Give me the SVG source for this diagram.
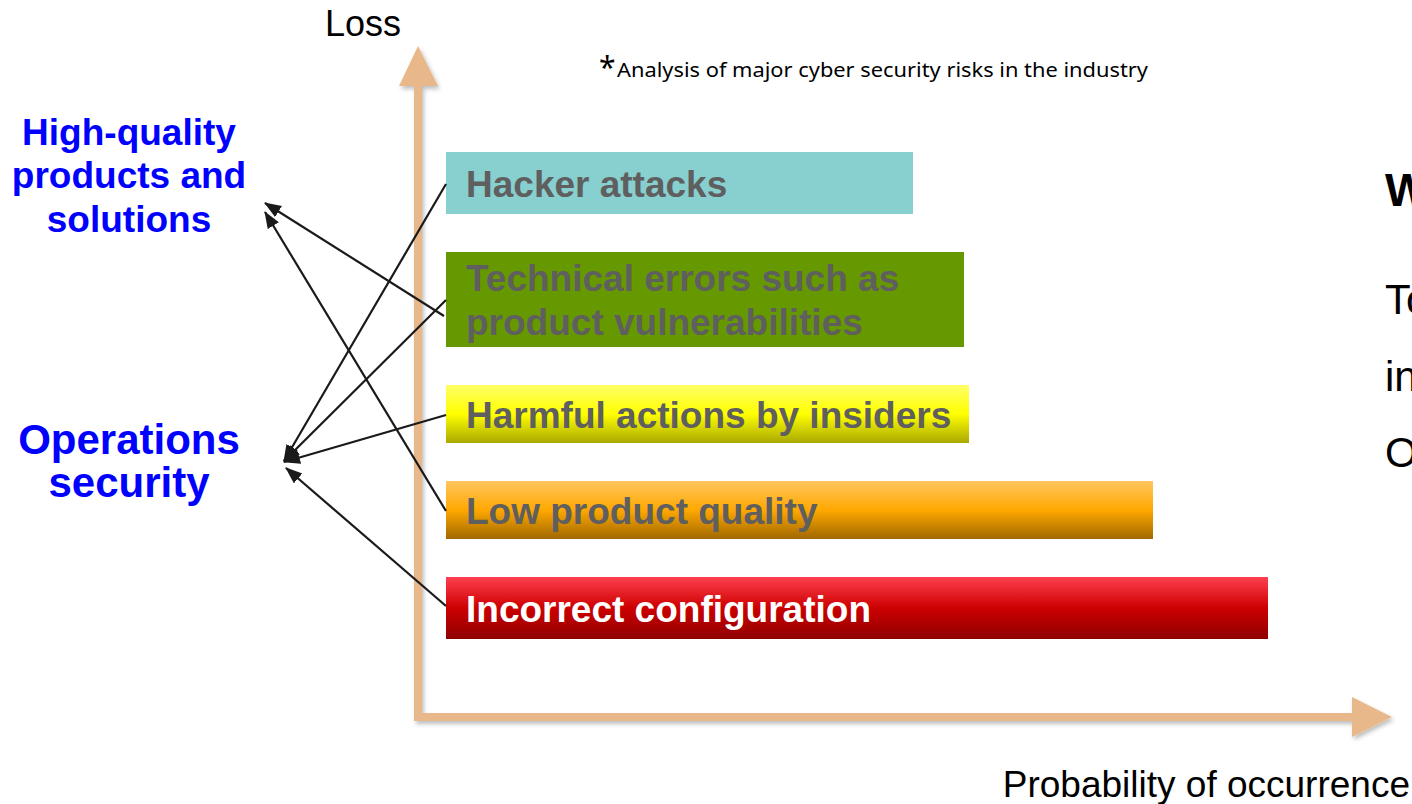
<svg xmlns="http://www.w3.org/2000/svg" width="1412" height="804" viewBox="0 0 1412 804">
<defs>
<style>
.ax{fill:#E8B88A}
.bt{font-family:"Liberation Sans",Arial,sans-serif;font-weight:bold;font-size:37px;fill:#5F5F5F}
.blue{font-family:"Liberation Sans",Arial,sans-serif;font-weight:bold;fill:#0000FF;text-anchor:middle}
.reg{font-family:"Liberation Sans",Arial,sans-serif;fill:#000}
.con{stroke:#1A1A1A;stroke-width:2.2;fill:none;marker-end:url(#ah)}
</style>
<marker id="ah" markerUnits="userSpaceOnUse" markerWidth="18" markerHeight="14" refX="16" refY="6.5" orient="auto">
<path d="M0,0 L17,6.5 L0,13 z" fill="#1A1A1A"/>
</marker>
<filter id="sh" x="-5%" y="-5%" width="110%" height="110%">
<feDropShadow dx="2" dy="3" stdDeviation="2" flood-color="#000" flood-opacity="0.25"/>
</filter>
<linearGradient id="gy" x1="0" y1="0" x2="0" y2="1">
<stop offset="0" stop-color="#FFFF66"/><stop offset="0.5" stop-color="#FFFF00"/><stop offset="1" stop-color="#A8A800"/>
</linearGradient>
<linearGradient id="go" x1="0" y1="0" x2="0" y2="1">
<stop offset="0" stop-color="#FFC65E"/><stop offset="0.5" stop-color="#FFA800"/><stop offset="1" stop-color="#A06800"/>
</linearGradient>
<linearGradient id="gr" x1="0" y1="0" x2="0" y2="1">
<stop offset="0" stop-color="#FF4050"/><stop offset="0.5" stop-color="#CC0000"/><stop offset="1" stop-color="#900000"/>
</linearGradient>
</defs>
<rect width="1412" height="804" fill="#FFFFFF"/>

<g id="axes" filter="url(#sh)">
<rect class="ax" x="414" y="84" width="8" height="637"/>
<polygon class="ax" points="418,46 438,86 399,86"/>
<rect class="ax" x="414" y="713" width="940" height="8"/>
<polygon class="ax" points="1392,717 1352,697 1352,737"/>
</g>
<g id="axis-labels">
<text class="reg" x="363" y="36" font-size="36" text-anchor="middle">Loss</text>
<text class="reg" x="1410" y="797" font-size="37" text-anchor="end">Probability of occurrence</text>
</g>

<g id="note">
<text x="599" y="78" font-family="'Noto Sans','Open Sans',sans-serif" font-size="30" fill="#000">*</text>
<text x="617" y="77" font-family="'Noto Sans','Open Sans',sans-serif" font-size="19.5" fill="#000" textLength="531" lengthAdjust="spacingAndGlyphs">Analysis of major cyber security risks in the industry</text>
</g>

<g id="n-hacker">
<rect x="446" y="152" width="467" height="62" fill="#88CFCF"/>
<text class="bt" x="466" y="197">Hacker attacks</text>
</g>
<g id="n-technical">
<rect x="446" y="252" width="518" height="95" fill="#669900"/>
<text class="bt" x="466" y="291">Technical errors such as</text>
<text class="bt" x="466" y="335">product vulnerabilities</text>
</g>
<g id="n-harmful">
<rect x="446" y="385" width="523" height="58" fill="url(#gy)"/>
<text class="bt" x="466" y="428">Harmful actions by insiders</text>
</g>
<g id="n-low">
<rect x="446" y="481" width="707" height="58" fill="url(#go)"/>
<text class="bt" x="466" y="524">Low product quality</text>
</g>
<g id="n-incorrect">
<rect x="446" y="577" width="822" height="62" fill="url(#gr)"/>
<text class="bt" x="466" y="622" font-size="36" fill="#FFFFFF" style="fill:#FFFFFF">Incorrect configuration</text>
</g>

<g id="n-hq">
<text class="blue" x="129" y="145" font-size="37">High-quality</text>
<text class="blue" x="129" y="188" font-size="37">products and</text>
<text class="blue" x="129" y="232" font-size="37">solutions</text>
</g>
<g id="n-ops">
<text class="blue" x="129" y="454" font-size="42">Operations</text>
<text class="blue" x="129" y="497" font-size="42">security</text>
</g>

<g id="connectors">
<line class="con" x1="444" y1="316" x2="265" y2="203"/>
<line class="con" x1="446" y1="511" x2="265" y2="212"/>
<line class="con" x1="446" y1="184" x2="284" y2="461"/>
<line class="con" x1="446" y1="300" x2="284" y2="461"/>
<line class="con" x1="446" y1="415" x2="284" y2="462"/>
<line class="con" x1="446" y1="606" x2="286" y2="468"/>
</g>

<g id="right-text">
<text class="reg" x="1385" y="206" font-size="46" font-weight="bold">W</text>
<text class="reg" x="1385" y="314" font-size="42">To</text>
<text class="reg" x="1385" y="391" font-size="42">in</text>
<text class="reg" x="1385" y="467" font-size="42">O</text>
</g>
</svg>
